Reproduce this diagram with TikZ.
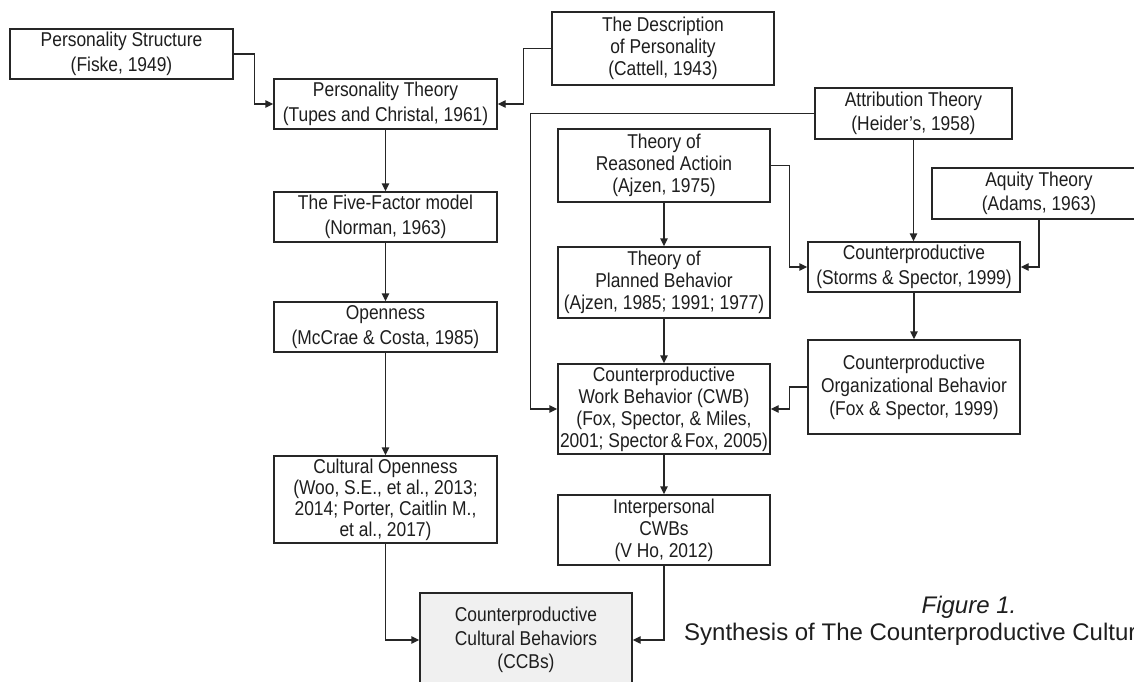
\documentclass[tikz,border=0pt]{standalone}
\usepackage{fontspec}
\setmainfont{Liberation Sans}
\newfontfamily\narrowfont[FakeStretch=0.87]{Liberation Sans}
\usetikzlibrary{arrows.meta,calc}
\definecolor{ink}{HTML}{1E1E1E}
\definecolor{edge}{HTML}{262626}
\definecolor{ccbfill}{HTML}{F0F0F0}
\tikzset{
  box/.style={draw=edge, line width=1.4pt, fill=white, rectangle, inner sep=0pt,
    align=center, text=ink, font=\narrowfont\fontsize{20}{22}\selectfont},
  tight/.style={font=\narrowfont\fontsize{20}{21}\selectfont},
  loose/.style={font=\narrowfont\fontsize{20}{24.5}\selectfont},
  wide/.style={minimum width=223pt},
  std/.style={minimum width=212pt},
  link/.style={draw=edge, line width=1.4pt, -{Triangle[length=8pt,width=7.5pt]}},
}
\begin{document}
\begin{tikzpicture}[x=1pt,y=-1pt]
\useasboundingbox (0,0) rectangle (1134,682);
\clip (0,0) rectangle (1134,682);
\fill[white] (0,0) rectangle (1134,682);

% left column: personality line
\node[box, loose, wide, minimum height=50pt] (ps) at (121.5,54) {Personality Structure\\(Fiske, 1949)};
\node[box, loose, wide, minimum height=50pt] (pt) at (385.5,104) {Personality Theory\\(Tupes and Christal, 1961)};
\node[box, loose, wide, minimum height=50pt] (ff) at (385.5,217) {The Five-Factor model\\(Norman, 1963)};
\node[box, loose, wide, minimum height=50pt] (op) at (385.5,327) {Openness\\(McCrae \& Costa, 1985)};
\node[box, tight, wide, minimum height=87pt] (co) at (385.5,499.5) {Cultural Openness\\(Woo, S.E., et al., 2013;\\2014; Porter, Caitlin M.,\\et al., 2017)};
\node[box, std, minimum height=94pt, fill=ccbfill, font=\narrowfont\fontsize{20}{23.5}\selectfont] (ccb) at (526,640) {Counterproductive\\Cultural Behaviors\\(CCBs)};
\node[box, minimum width=222pt, minimum height=73pt] (desc) at (663,48.5) {The Description\\of Personality\\(Cattell, 1943)};

% middle and right columns: behaviour line
\node[box, loose, minimum width=197pt, minimum height=51pt] (attr) at (913.5,113.5) {Attribution Theory\\(Heider’s, 1958)};
\node[box, std, minimum height=73pt] (tra) at (664,165.5) {Theory of\\Reasoned Actioin\\(Ajzen, 1975)};
\node[box, loose, minimum width=214pt, minimum height=51pt] (aq) at (1039,193.5) {Aquity Theory\\(Adams, 1963)};
\node[box, loose, std, minimum height=50pt] (st) at (914,267) {Counterproductive\\(Storms \& Spector, 1999)};
\node[box, std, minimum height=71pt] (tpb) at (664,282.5) {Theory of\\Planned Behavior\\(Ajzen, 1985; 1991; 1977)};
\node[box, std, minimum height=94pt, font=\narrowfont\fontsize{20}{23}\selectfont] (cob) at (914,387) {Counterproductive\\Organizational Behavior\\(Fox \& Spector, 1999)};
\node[box, std, minimum height=90pt] (cwb) at (664,409) {Counterproductive\\Work Behavior (CWB)\\(Fox, Spector, \& Miles,\\2001; Spector\kern0.12em\&\kern0.12em Fox, 2005)};
\node[box, std, minimum height=70pt] (ip) at (664,530) {Interpersonal\\CWBs\\(V Ho, 2012)};

% caption
\node[text=ink, font=\fontsize{24}{28}\selectfont\itshape] (fig) at (969,607) {Figure 1.};
\node[text=ink, font=\fontsize{24}{28}\selectfont, anchor=west, inner sep=0pt] (syn) at (684,634) {Synthesis of The Counterproductive Cultur};

% connectors
\draw[link] (ps.east) -- ++(21,0) |- (pt.west);
\draw[link] (desc.west) -- ++(-28,0) |- (pt.east);
\draw[link] (pt) -- (ff);
\draw[link] (ff) -- (op);
\draw[link] (op) -- (co);
\draw[link] (co.south) |- (ccb.west);
\draw[link] (ip.south) |- (ccb.east);
\draw[link] (attr.west) -- ++(-284,0) |- (cwb.west);
\draw[link] (attr.south) -- (attr.south |- st.north);
\draw[link] (tra.east) -- ++(19,0) |- (st.west);
\draw[link] (aq.south) |- (st.east);
\draw[link] (tra) -- (tpb);
\draw[link] (tpb) -- (cwb);
\draw[link] (cwb) -- (ip);
\draw[link] (st) -- (cob);
\draw[link] (cob.west) -- ++(-18,0) |- (cwb.east);
\end{tikzpicture}
\end{document}
